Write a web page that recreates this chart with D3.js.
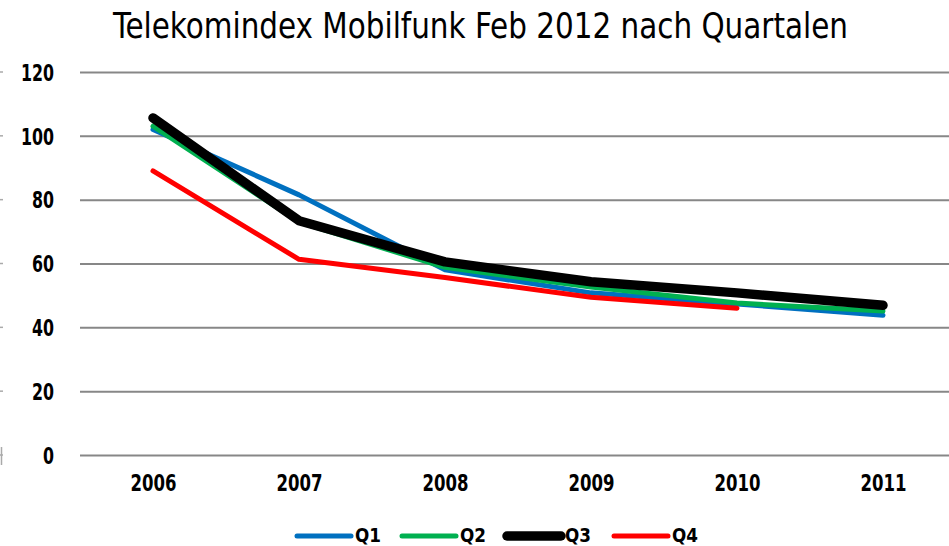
<!DOCTYPE html>
<html>
<head>
<meta charset="utf-8">
<script src="https://cdn.jsdelivr.net/npm/d3@7"></script>
<style>
  html, body { margin: 0; padding: 0; background: #fff; }
  svg { display: block; }
  text { font-family: "Liberation Sans Narrow", "DejaVu Sans Condensed", "Roboto", sans-serif; }
</style>
</head>
<body>
<svg id="chart" width="949" height="546"></svg>
<script>
const title = "Telekomindex Mobilfunk Feb 2012 nach Quartalen";
const years = ["2006", "2007", "2008", "2009", "2010", "2011"];
const yTicks = [0, 20, 40, 60, 80, 100, 120];
const seriesNames = ["Q1", "Q2", "Q3", "Q4"];
const q1 = [102, 81.5, 58, 50.8, 47.3, 43.8];
const q2 = [103, 73, 58.8, 52.6, 47.6, 45.1];
const q3 = [105.6, 73.4, 60.5, 54.3, 50.8, 46.9];
const q4 = [89, 61.3, 55.6, 49.4, 46, null];
const seriesColors = ["#0070C0", "#00B050", "#000000", "#FF0000"];
const seriesWidths = [5, 5, 9.5, 5];

const svg = d3.select("#chart");
const x = d3.scalePoint().domain(years).range([80, 956]).padding(0.5);
const y = d3.scaleLinear().domain([0, 120]).range([455, 72]);

// title
svg.append("text")
  .attr("x", 113).attr("y", 38)
  .attr("font-size", 36)
  .attr("textLength", 735)
  .attr("lengthAdjust", "spacingAndGlyphs")
  .attr("fill", "#000")
  .text(title);

// y axis with gridlines
const yAxis = svg.append("g").attr("transform", "translate(80,0)")
  .call(d3.axisLeft(y).tickValues(yTicks).tickSize(-880).tickPadding(26));
yAxis.select(".domain").remove();
yAxis.selectAll(".tick line").attr("stroke", "#878787").attr("stroke-width", 2);
yAxis.selectAll(".tick text")
  .attr("font-size", 23).attr("font-weight", "bold").attr("fill", "#000")
  .attr("dy", "0.36em")
  .each(function(d) {
    const s = String(d);
    d3.select(this).attr("textLength", s.length * 11).attr("lengthAdjust", "spacingAndGlyphs");
  });

// tiny clipped tick marks at the left edge
svg.append("g").selectAll("line").data(yTicks).join("line")
  .attr("x1", 0).attr("x2", 3)
  .attr("y1", d => y(d)).attr("y2", d => y(d))
  .attr("stroke", "#aaa").attr("stroke-width", 1.5);
svg.append("line").attr("x1", 1.5).attr("x2", 1.5).attr("y1", y(0) - 8).attr("y2", y(0) + 10)
  .attr("stroke", "#aaa").attr("stroke-width", 1.5);

// x axis labels
const xAxis = svg.append("g").attr("transform", "translate(0,455)")
  .call(d3.axisBottom(x).tickSize(0).tickPadding(20));
xAxis.select(".domain").remove();
xAxis.selectAll(".tick text")
  .attr("font-size", 23).attr("font-weight", "bold").attr("fill", "#000")
  .attr("textLength", 46).attr("lengthAdjust", "spacingAndGlyphs");

// lines
const allSeries = [q1, q2, q3, q4];
const line = d3.line()
  .defined(d => d.v !== null)
  .x(d => x(d.year)).y(d => y(d.v));
allSeries.forEach((vals, i) => {
  svg.append("path")
    .datum(years.map((yr, j) => ({ year: yr, v: vals[j] })))
    .attr("fill", "none")
    .attr("stroke", seriesColors[i])
    .attr("stroke-width", seriesWidths[i])
    .attr("stroke-linejoin", "round")
    .attr("stroke-linecap", "round")
    .attr("d", line);
});

// legend
const legendX = [297, 402, 507, 614];
const legend = svg.append("g");
seriesNames.forEach((name, i) => {
  const g = legend.append("g").attr("transform", `translate(${legendX[i]},536)`);
  g.append("line").attr("x1", 0).attr("x2", 54).attr("y1", 0).attr("y2", 0)
    .attr("stroke", seriesColors[i]).attr("stroke-width", seriesWidths[i])
    .attr("stroke-linecap", "round");
  g.append("text").attr("x", 58).attr("y", 4)
    .attr("font-size", 20).attr("font-weight", "bold").attr("fill", "#000")
    .attr("dy", "0.1em")
    .attr("textLength", 26).attr("lengthAdjust", "spacingAndGlyphs")
    .text(name);
});
</script>
</body>
</html>
